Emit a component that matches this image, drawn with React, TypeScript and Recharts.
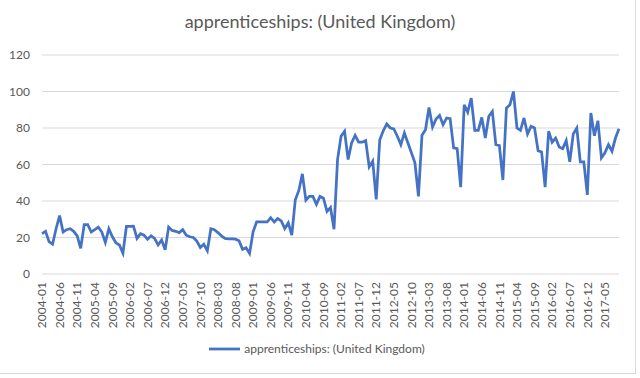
import React from "react";
import { LineChart, Line, XAxis, YAxis, CartesianGrid, Legend } from "recharts";

const TITLE = "apprenticeships: (United Kingdom)";
const SERIES_NAME = "apprenticeships: (United Kingdom)";

const startYear = 2004;
const monthCount = 165;
const months: string[] = [];
for (let k = 0; k < monthCount; k++) {
  const y = startYear + Math.floor(k / 12);
  const m = (k % 12) + 1;
  months.push(`${y}-${m < 10 ? "0" + m : m}`);
}

const values: number[] = [
  22.1, 23.4, 17.7, 16.3, 24.8, 32, 23, 24.3, 24.8, 23.4,
  20.9, 14.1, 27, 27, 23, 24.3, 25.7, 23, 17.3, 24.8,
  20.4, 17.1, 15.9, 11.4, 26.1, 26.1, 26.2, 19.5,
  22.1, 21.3, 19, 20.9, 19.5, 15.9, 18.6, 13.2, 25.7, 23.9,
  23.4, 22.7, 24.3, 21.3, 20.4, 20, 18, 14.5, 16.3, 12.7,
  24.8, 24.3, 22.7, 20.9, 19.5, 19.3, 19.2,
  19.1, 18.2, 13.5, 14.4, 11.3,
  23.1, 28.5, 28.5, 28.5, 28.5, 30.9, 28.5, 30.4, 29.1, 24.9,
  28, 21.3, 40.7, 45.8, 54.9, 40.4, 42.5, 42.5, 38.2, 42.5,
  41.5, 34.3, 36.4, 24.5,
  62.7, 75.5, 78.2, 62.7, 71.8, 76, 72.2, 72.2, 73.1, 58.7,
  61.8, 40.9, 73.6, 78.5, 82.2, 80, 79.5, 75.5, 70.9, 77.3,
  71.8, 66.4, 60.9, 42.5, 76,
  79.1, 91.3, 80.5, 84.9, 86.9, 81.8, 85.5, 85.1, 69.1, 68.7,
  47.6, 92.7, 88.7, 96.4, 78.7, 78.7, 85.8, 74.5, 86.4, 89.1,
  70.9, 70.4, 51.5, 90.9, 92.7, 100, 80,
  78.7, 85.5, 76.7, 80.9, 80, 67.6, 66.9, 47.6, 78.2, 72.2,
  74.5, 69.6, 68.7, 73.1, 61.5, 76.7, 80, 61.5, 61.5, 43.3,
  88.2, 75.8, 84, 63.6, 66.4, 70.9, 67.3, 74.5, 79.6,
];

const yTicks = [0, 20, 40, 60, 80, 100, 120];

const data = months.map((m, i) => ({ month: m, value: values[i] }));

const FONT = "Lato, 'Open Sans', sans-serif";
const TEXT_COLOR = "#595959";
const LINE_COLOR = "#4472C4";

const XTick = (props: any) => {
  const { x, y, payload } = props;
  return (
    <g transform={`translate(${x},${y})`}>
      <text
        transform="rotate(-90)"
        x={0}
        y={0}
        dy="0.35em"
        textAnchor="end"
        fontSize={12}
        fontFamily={FONT}
        fill={TEXT_COLOR}
      >
        {payload.value}
      </text>
    </g>
  );
};

const YTick = (props: any) => {
  const { x, y, payload } = props;
  return (
    <text x={x} y={y} dy="0.35em" textAnchor="end" fontSize={12} fontFamily={FONT} fill={TEXT_COLOR}>
      {payload.value}
    </text>
  );
};

const LegendContent = () => (
  <div style={{ display: "flex", justifyContent: "center", alignItems: "center", fontFamily: FONT, fontSize: 12, color: TEXT_COLOR }}>
    <svg width={31} height={10} style={{ marginRight: 4 }}>
      <line x1={0} y1={5} x2={31} y2={5} stroke={LINE_COLOR} strokeWidth={2.75} />
    </svg>
    <span>{SERIES_NAME}</span>
  </div>
);

export default function App() {
  return (
    <div style={{ position: "absolute", left: 0, top: 0, width: 640, height: 378, background: "#fff" }}>
      <div
        style={{
          position: "absolute",
          left: 0,
          top: 0,
          width: 635,
          height: 373,
          borderRight: "1px solid #D9D9D9",
          borderBottom: "1px solid #D9D9D9",
        }}
      />
      <div
        style={{
          position: "absolute",
          left: 0,
          top: 10,
          width: 640,
          textAlign: "center",
          fontFamily: FONT,
          fontSize: 18,
          color: TEXT_COLOR,
        }}
      >
        {TITLE}
      </div>
      <div style={{ position: "absolute", left: 0, top: 0 }}>
        <LineChart width={640} height={378} data={data} margin={{ top: 55, right: 21, bottom: 0, left: 0 }}>
          <CartesianGrid vertical={false} stroke="#D9D9D9" strokeWidth={1} />
          <XAxis
            dataKey="month"
            interval={4}
            axisLine={false}
            tickLine={false}
            tickSize={0}
            tickMargin={8}
            height={104}
            tick={<XTick />}
          />
          <YAxis
            domain={[0, 120]}
            ticks={yTicks}
            axisLine={false}
            tickLine={false}
            tickSize={0}
            tickMargin={12}
            width={42}
            tick={<YTick />}
          />
          <Legend
            layout="horizontal"
            verticalAlign="middle"
            align="center"
            wrapperStyle={{ top: 341, left: -3, width: 640 }}
            content={<LegendContent />}
          />
          <Line
            type="linear"
            dataKey="value"
            name={SERIES_NAME}
            stroke={LINE_COLOR}
            strokeWidth={2.75}
            dot={false}
            isAnimationActive={false}
          />
        </LineChart>
      </div>
    </div>
  );
}
